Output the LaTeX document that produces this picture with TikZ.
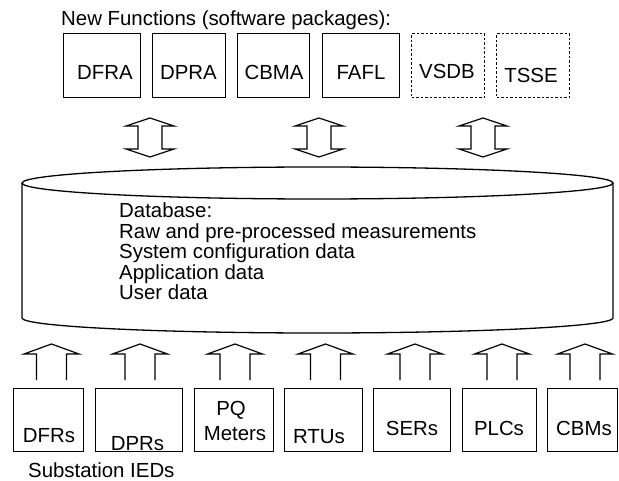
\documentclass[tikz,border=0pt]{standalone}
\usepackage{fontspec}
\setmainfont{Liberation Sans}
\begin{document}
\begin{tikzpicture}[x=1pt,y=-1pt,font=\fontsize{20.4}{22}\selectfont,
  box/.style={draw,line width=1.3pt,inner sep=0pt,anchor=north west},
  dbox/.style={box,dash pattern=on 2.5pt off 2pt},
  lbl/.style={anchor=base,inner sep=0pt},
  lbw/.style={anchor=base west,inner sep=0pt},
  blk/.style={draw,line width=1.2pt,line join=miter}]
\useasboundingbox (0,0) rectangle (619,481);
% title
\node[lbw] (title) at (61,26) {New Functions (software packages):};
% top boxes
\node[box,minimum width=77pt,minimum height=64pt] (dfra) at (63,33) {};
\node[box,minimum width=73pt,minimum height=64pt] (dpra) at (152,33) {};
\node[box,minimum width=72pt,minimum height=64pt] (cbma) at (237,33) {};
\node[box,minimum width=77pt,minimum height=64pt] (fafl) at (322,33) {};
\node[dbox,minimum width=73pt,minimum height=64pt] (vsdb) at (411,33) {};
\node[dbox,minimum width=73pt,minimum height=64pt] (tsse) at (496,33) {};
\node[lbl] (tdfra) at (105,80) {DFRA};
\node[lbl] (tdpra) at (188.5,80) {DPRA};
\node[lbl] (tcbma) at (274,80) {CBMA};
\node[lbl] (tfafl) at (361,80) {FAFL};
\node[lbl] (tvsdb) at (447,79) {VSDB};
\node[lbl] (ttsse) at (531,83) {TSSE};
% double arrows
\foreach \cx in {150,319,483}{
  \draw[blk,shift={(\cx,0)}] (0,118) -- (24,126) -- (12,126) -- (12,149) -- (24,149)
    -- (0,157) -- (-24,149) -- (-12,149) -- (-12,126) -- (-24,126) -- cycle;
}
% database cylinder
\draw[line width=1.3pt] (317.5,183) ellipse [x radius=295.5pt,y radius=16pt];
\draw[line width=1.3pt] (22,183) -- (22,318) arc[start angle=180,end angle=360,x radius=295.5pt,y radius=15pt] -- (613,183);
\node[lbw] (db1) at (119,218) {Database:};
\node[lbw] (db2) at (119,238.5) {Raw and pre-processed measurements};
\node[lbw] (db3) at (119,259) {System configuration data};
\node[lbw] (db4) at (119,279.5) {Application data};
\node[lbw] (db5) at (119,300) {User data};
% up arrows
\foreach \cx in {51.5,140,235,325.5,415,502,585}{
  \draw[blk,shift={(\cx,0)}] (-15,380) -- (-15,354) -- (-27.5,354) -- (0,344)
    -- (27.5,354) -- (15,354) -- (15,380);
}
% bottom boxes
\node[box,minimum width=70pt,minimum height=63pt] (dfrs) at (13,388) {};
\node[box,minimum width=87pt,minimum height=63pt] (dprs) at (95,388) {};
\node[box,minimum width=79pt,minimum height=63pt] (pqm) at (194,388) {};
\node[box,minimum width=78pt,minimum height=63pt] (rtus) at (284,388) {};
\node[box,minimum width=77pt,minimum height=63pt] (sers) at (373,388) {};
\node[box,minimum width=74pt,minimum height=63pt] (plcs) at (462,388) {};
\node[box,minimum width=70pt,minimum height=63pt] (cbms) at (547,388) {};
\node[lbl] (tdfrs) at (49,442) {DFRs};
\node[lbl] (tdprs) at (137.5,450) {DPRs};
\node[lbl] (tpq) at (231,415) {PQ};
\node[lbl] (tmet) at (235,440) {Meters};
\node[lbl] (trtus) at (319,443) {RTUs};
\node[lbl] (tsers) at (412,435) {SERs};
\node[lbl] (tplcs) at (499,435) {PLCs};
\node[lbl] (tcbms) at (584,435) {CBMs};
\node[lbw] (ieds) at (28,477) {Substation IEDs};
\end{tikzpicture}
\end{document}
